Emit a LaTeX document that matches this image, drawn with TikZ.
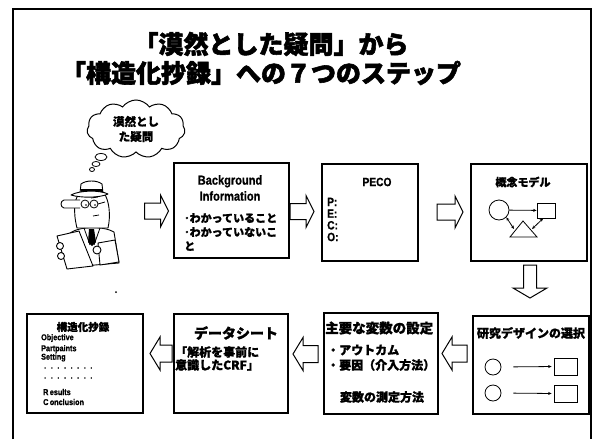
\documentclass[tikz,border=0pt]{standalone}
\usepackage{fontspec}
\setmainfont{Liberation Sans}
\newfontfamily\jp{Noto Sans CJK JP}[BoldFeatures={FakeBold=1.2}]
\newfontfamily\jpheavy{Noto Sans CJK JP}[BoldFeatures={FakeBold=2.2}]
\newfontfamily\narrow[FakeStretch=0.85]{Liberation Sans}[BoldFeatures={FakeBold=0.8}]
\usetikzlibrary{arrows.meta,shapes.symbols}

% hollow block arrow: centre x, centre y, angle, length, head width, shaft width, head length
\newcommand\blockarrow[7]{%
  \draw[blk, shift={(#1,#2)}, rotate=#3]
    ({-#4/2},{-#6/2}) -- ({#4/2-#7},{-#6/2}) -- ({#4/2-#7},{-#5/2}) --
    ({#4/2},0) -- ({#4/2-#7},{#5/2}) -- ({#4/2-#7},{#6/2}) --
    ({-#4/2},{#6/2}) -- cycle;}

\tikzset{
  stepbox/.style={draw, line width=1.8pt, anchor=north west, inner sep=0},
  jtxt/.style={inner sep=0, font=\jp\bfseries\fontsize{#1}{#1}\selectfont},
  ltxt/.style={inner sep=0, font=\narrow\bfseries\fontsize{#1}{#1}\selectfont},
  blk/.style={draw, line width=1pt, fill=white, line join=miter},
  thin/.style={line width=0.8pt},
  tip/.style={-{Stealth[length=3.5pt,width=3pt]}},
  tips/.style={{Stealth[length=3.5pt,width=3pt]}-{Stealth[length=3.5pt,width=3pt]}},
  figline/.style={line width=0.9pt, line join=round, fill=white},
}

\begin{document}
\begin{tikzpicture}[x=1pt,y=-1pt]
\useasboundingbox (0,0) rectangle (593,439);

% outer frame (open at the bottom)
\draw[line width=2pt] (13,439) -- (13,9) -- (591,9) -- (591,439);

% title
\node[inner sep=0, font=\jpheavy\bfseries\fontsize{25}{25}\selectfont] (title1) at (271,44) {「漠然とした疑問」から};
\node[inner sep=0, font=\jpheavy\bfseries\fontsize{25}{25}\selectfont] (title2) at (261,73) {「構造化抄録」への７つのステップ};

% thought cloud
\node[cloud, draw, line width=1pt, cloud puffs=11, cloud puff arc=110, aspect=2,
      minimum width=98, minimum height=48, align=center,
      font=\jp\bfseries\fontsize{11.5}{15}\selectfont] (cloud) at (136,129) {漠然とし\\た疑問};
\draw[line width=0.8pt, fill=white] (101,157) ellipse (6 and 3.5);
\draw[line width=0.8pt, fill=white] (96,164) ellipse (4 and 2.5);
\draw[line width=0.8pt, fill=white] (92,169.5) ellipse (2.5 and 2);

% reader with hat and glasses
\draw[figline] (70,233) .. controls (80,226) and (104,226) .. (114,232) -- (119,263) -- (71,267) -- cycle;
\draw[figline] (77,228) .. controls (73,212) and (74,198) .. (80,193) -- (104,193)
  .. controls (109,200) and (111,215) .. (108,228) -- cycle;
\draw[figline] (80,200) -- (64,200) .. controls (60,201) and (60,207) .. (64,208) -- (80,208);
\draw[figline] (80,193) -- (81,184) .. controls (86,180) and (97,180) .. (102,184) -- (103,193) -- cycle;
\fill (80.5,188.5) rectangle (102.5,192.5);
\draw[figline] (71,195) .. controls (80,190) and (100,190) .. (108,194)
  .. controls (100,198) and (80,198) .. (71,195) -- cycle;
\draw[line width=0.8pt] (85,204) circle (4) (94,204) circle (4) (89,204) -- (90,204) (98,204) -- (105,202);
\fill (86,205) circle (0.9) (95,205) circle (0.9);
\draw[line width=0.8pt] (91,198) -- (98,197);
\draw[line width=0.8pt] (93,216) -- (99,215);
\draw[line width=0.8pt] (84,228) -- (90,245) (100,228) -- (94,245);
\fill (89,229) -- (94,229) -- (96,242) -- (92,246) -- (88,242) -- cycle;
\draw[figline] (57,236) -- (79,231) -- (93,266) -- (67,269) -- cycle;
\draw[figline] (60,246) circle (3.5);
\draw[figline] (61,256) circle (3.5);
\draw[figline] (98,243) -- (115,240) -- (119,262) -- (100,265) -- cycle;
\draw[figline] (97,250) circle (4);

\fill (116,292) circle (1);

% top row of steps
\node[stepbox, minimum width=115, minimum height=95] (bg) at (173,162) {};
\node[ltxt=13, align=center] (bgtitle) at (230,188) {Background\\[3pt]Information};
\node[jtxt=11, anchor=west, align=left, font=\jp\bfseries\fontsize{11}{14}\selectfont]
  (bgitems) at (184,232) {･わかっていること\\･わかっていないこ\\と};

\node[stepbox, minimum width=96, minimum height=97] (peco) at (321,163) {};
\node[ltxt=12] (pecotitle) at (377,182) {PECO};
\node[ltxt=12, anchor=west, align=left, font=\narrow\bfseries\fontsize{12}{11.7}\selectfont]
  (pecoitems) at (327,219.5) {P:\\E:\\C:\\O:};

\node[stepbox, minimum width=116, minimum height=97] (model) at (470,163) {};
\node[jtxt=11] (modeltitle) at (523,182) {概念モデル};
\node[draw, thin, circle, minimum size=20, inner sep=0] (mc) at (499,210) {};
\node[draw, thin, minimum width=18, minimum height=15, inner sep=0] (ms) at (546,210.5) {};
\draw[thin, line join=miter] (510,237) -- (523,221) -- (537,237) -- cycle;
\coordinate (tl) at (514,229);
\coordinate (tr) at (532,229);
\draw[thin, tip] (mc) -- (ms);
\draw[thin, tips] (mc.south east) -- (tl);
\draw[thin, tips] (tr) -- (ms.250);

% bottom row of steps
\node[stepbox, minimum width=116, minimum height=98] (design) at (472,315) {};
\node[jtxt=12] (designtitle) at (531,333) {研究デザインの選択};
\node[draw, thin, circle, minimum size=16, inner sep=0] (c1) at (493,367) {};
\node[draw, thin, minimum width=23, minimum height=17, inner sep=0] (s1) at (565.5,366.5) {};
\node[draw, thin, circle, minimum size=16, inner sep=0] (c2) at (493,393) {};
\node[draw, thin, minimum width=23, minimum height=17, inner sep=0] (s2) at (565.5,393.5) {};
\draw[thin, tip, shorten <=12pt, shorten >=2pt] (c1.east) -- (s1.west);
\draw[thin, tip, shorten <=12pt, shorten >=2pt] (c2.east) -- (s2.west);

\node[stepbox, minimum width=114, minimum height=101] (vars) at (323,312) {};
\node[jtxt=13.5, anchor=west] (varstitle) at (325,328) {主要な変数の設定};
\node[jtxt=12, anchor=west] (varsa) at (327,350) {・アウトカム};
\node[jtxt=12, anchor=west] (varsb) at (327,365) {・要因（介入方法）};
\node[jtxt=12] (varsc) at (382,397) {変数の測定方法};

\node[stepbox, minimum width=114, minimum height=99] (sheet) at (173,313) {};
\node[jtxt=14] (sheettitle) at (236,333) {データシート};
\node[jtxt=12, anchor=west] (sheeta) at (175,352) {「解析を事前に};
\node[jtxt=12, anchor=west] (sheetb) at (175,365) {意識したCRF」};

\node[stepbox, minimum width=116, minimum height=99] (abstract) at (26,313) {};
\node[jtxt=10.5] (abstitle) at (83,327) {構造化抄録};
\node[ltxt=8.5, anchor=west] (absa) at (41,338) {Objective};
\node[ltxt=8.5, anchor=west] (absb) at (41,349) {Partpaints};
\node[ltxt=8.5, anchor=west] (absc) at (41,357.5) {Setting};
\node[ltxt=8.5, anchor=west] (absd) at (44,368) {.\hspace{4.6pt}.\hspace{4.6pt}.\hspace{4.6pt}.\hspace{4.6pt}.\hspace{4.6pt}.\hspace{4.6pt}.\hspace{4.6pt}.};
\node[ltxt=8.5, anchor=west] (abse) at (44,378) {.\hspace{4.6pt}.\hspace{4.6pt}.\hspace{4.6pt}.\hspace{4.6pt}.\hspace{4.6pt}.\hspace{4.6pt}.\hspace{4.6pt}.};
\node[ltxt=8.5, anchor=west] (absf) at (43,392) {R\,esults};
\node[ltxt=8.5, anchor=west] (absg) at (43,402) {C\,onclusion};

% hollow arrows between the steps
\blockarrow{156.5}{211}{0}{24}{32}{16}{8}
\blockarrow{302}{211.5}{0}{24}{32}{16}{8}
\blockarrow{450}{212}{0}{26}{32}{16}{8}
\blockarrow{530}{281.5}{-90}{33}{34}{13}{10}
\blockarrow{454.5}{353.5}{180}{25}{33}{17}{10}
\blockarrow{305.5}{354}{180}{25}{33}{17}{10}
\blockarrow{161}{353.5}{180}{22}{33}{17}{10}
\end{tikzpicture}
\end{document}
